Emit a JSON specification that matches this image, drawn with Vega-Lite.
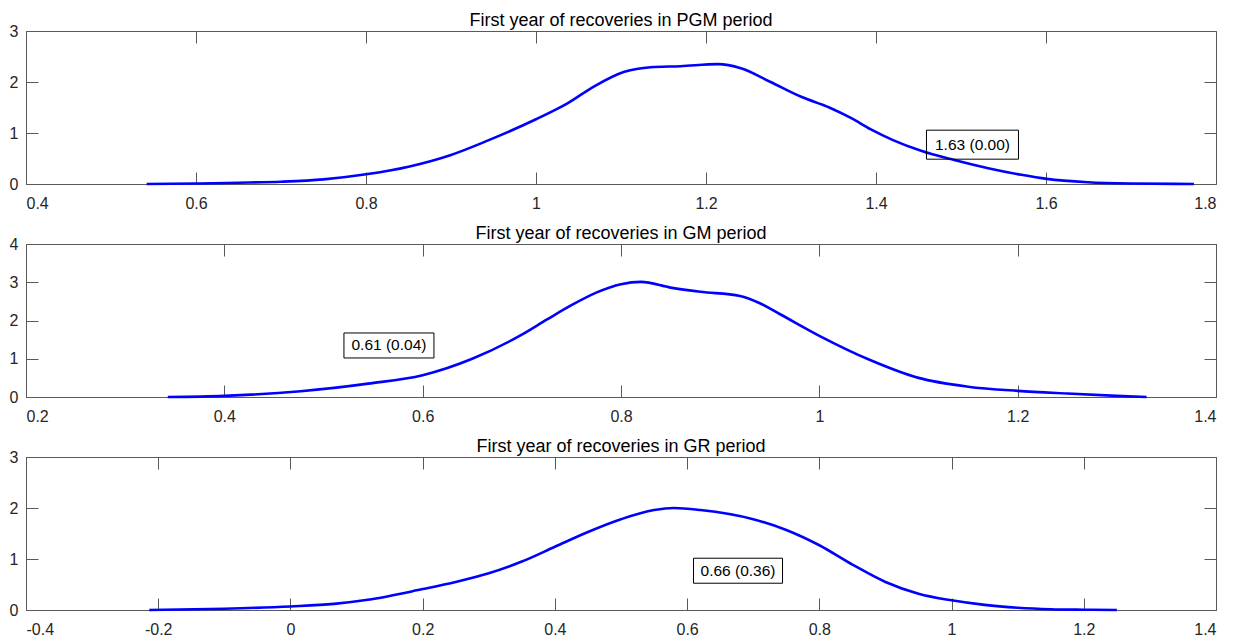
{
  "$schema": "https://vega.github.io/schema/vega-lite/v6.json",
  "padding": {"left": 8, "top": 11, "right": 5, "bottom": 5},
  "background": "white",
  "spacing": 60,
  "bounds": "flush",
  "config": {
    "view": {"stroke": "#595959", "strokeWidth": 1},
    "font": "Liberation Sans",
    "axis": {"domain": false, "grid": false, "tickColor": "#595959", "tickWidth": 1, "tickSize": -12, "labelFont": "Liberation Sans", "labelFontSize": 16, "labelColor": "#262626", "title": null},
    "axisBottom": {"labelPadding": 23},
    "axisLeft": {"labelPadding": 20},
    "title": {"font": "Liberation Sans", "fontSize": 18, "fontWeight": "normal", "color": "#000000", "anchor": "middle", "frame": "group", "baseline": "alphabetic", "offset": -7}
  },
  "datasets": {
    "pgm": [
      {"x": 0.542, "density": 0}, {"x": 0.6, "density": 0.01}, {"x": 0.65, "density": 0.025}, {"x": 0.7, "density": 0.045},
      {"x": 0.75, "density": 0.09}, {"x": 0.8, "density": 0.19}, {"x": 0.85, "density": 0.34}, {"x": 0.9, "density": 0.57},
      {"x": 0.943, "density": 0.85}, {"x": 1.0, "density": 1.27}, {"x": 1.037, "density": 1.58}, {"x": 1.068, "density": 1.91},
      {"x": 1.104, "density": 2.2}, {"x": 1.135, "density": 2.29}, {"x": 1.17, "density": 2.31}, {"x": 1.214, "density": 2.35},
      {"x": 1.241, "density": 2.27}, {"x": 1.276, "density": 2.0}, {"x": 1.312, "density": 1.71}, {"x": 1.345, "density": 1.5},
      {"x": 1.371, "density": 1.29}, {"x": 1.394, "density": 1.07}, {"x": 1.42, "density": 0.86}, {"x": 1.453, "density": 0.65},
      {"x": 1.492, "density": 0.47}, {"x": 1.532, "density": 0.31}, {"x": 1.571, "density": 0.18}, {"x": 1.601, "density": 0.1},
      {"x": 1.649, "density": 0.035}, {"x": 1.7, "density": 0.01}, {"x": 1.774, "density": 0}
    ],
    "gm": [
      {"x": 0.343, "density": 0}, {"x": 0.4, "density": 0.03}, {"x": 0.477, "density": 0.15}, {"x": 0.545, "density": 0.35},
      {"x": 0.6, "density": 0.57}, {"x": 0.65, "density": 1.0}, {"x": 0.7, "density": 1.63}, {"x": 0.725, "density": 2.02},
      {"x": 0.75, "density": 2.4}, {"x": 0.775, "density": 2.73}, {"x": 0.8, "density": 2.95}, {"x": 0.82, "density": 3.01},
      {"x": 0.85, "density": 2.86}, {"x": 0.88, "density": 2.75}, {"x": 0.92, "density": 2.64}, {"x": 0.94, "density": 2.45},
      {"x": 0.96, "density": 2.17}, {"x": 1.0, "density": 1.6}, {"x": 1.05, "density": 0.98}, {"x": 1.1, "density": 0.5},
      {"x": 1.15, "density": 0.27}, {"x": 1.2, "density": 0.16}, {"x": 1.25, "density": 0.09}, {"x": 1.3, "density": 0.03},
      {"x": 1.33, "density": 0}
    ],
    "gr": [
      {"x": -0.2135, "density": 0}, {"x": -0.1, "density": 0.025}, {"x": 0.0, "density": 0.07}, {"x": 0.066, "density": 0.12},
      {"x": 0.117, "density": 0.2}, {"x": 0.2, "density": 0.41}, {"x": 0.25, "density": 0.55}, {"x": 0.3, "density": 0.72},
      {"x": 0.35, "density": 0.95}, {"x": 0.4, "density": 1.24}, {"x": 0.45, "density": 1.53}, {"x": 0.5, "density": 1.78},
      {"x": 0.55, "density": 1.96}, {"x": 0.58, "density": 2.0}, {"x": 0.62, "density": 1.96}, {"x": 0.7, "density": 1.78},
      {"x": 0.75, "density": 1.57}, {"x": 0.8, "density": 1.27}, {"x": 0.85, "density": 0.89}, {"x": 0.9, "density": 0.55},
      {"x": 0.95, "density": 0.32}, {"x": 1.0, "density": 0.19}, {"x": 1.05, "density": 0.1}, {"x": 1.1, "density": 0.045},
      {"x": 1.15, "density": 0.015}, {"x": 1.2, "density": 0.005}, {"x": 1.25, "density": 0}
    ],
    "pgm_note": [{"x": 1.5135, "y": 0.771, "label": "1.63 (0.00)"}],
    "gm_note": [{"x": 0.566, "y": 1.347, "label": "0.61 (0.04)"}],
    "gr_note": [{"x": 0.677, "y": 0.77, "label": "0.66 (0.36)"}]
  },
  "vconcat": [
    {
      "width": 1190, "height": 153,
      "title": "First year of recoveries in PGM period",
      "layer": [
        {"data": {"name": "pgm"}, "mark": {"type": "line", "color": "#0000ff", "strokeWidth": 2.6, "interpolate": "monotone"},
         "encoding": {
           "x": {"field": "x", "type": "quantitative", "scale": {"domain": [0.4, 1.8], "nice": false, "zero": false}, "axis": {"orient": "bottom", "values": [0.4, 0.6, 0.8, 1, 1.2, 1.4, 1.6, 1.8], "labelExpr": "'' + datum.value"}},
           "y": {"field": "density", "type": "quantitative", "scale": {"domain": [0, 3], "nice": false, "zero": false}, "axis": {"orient": "left", "values": [0, 1, 2, 3]}}}},
        {"data": {"name": "pgm"}, "mark": {"type": "line", "opacity": 0},
         "encoding": {
           "x": {"field": "x", "type": "quantitative", "axis": {"orient": "top", "values": [0.4, 0.6, 0.8, 1, 1.2, 1.4, 1.6, 1.8], "labels": false}},
           "y": {"field": "density", "type": "quantitative", "axis": {"orient": "right", "values": [0, 1, 2, 3], "labels": false}}}},
        {"data": {"name": "pgm_note"}, "mark": {"type": "rect", "width": 92, "height": 29, "fill": "white", "fillOpacity": 0, "stroke": "#000000", "strokeWidth": 1},
         "encoding": {"x": {"field": "x", "type": "quantitative", "axis": null}, "y": {"field": "y", "type": "quantitative", "axis": null}}},
        {"data": {"name": "pgm_note"}, "mark": {"type": "text", "fontSize": 15.5, "color": "#000000", "font": "Liberation Sans"},
         "encoding": {"x": {"field": "x", "type": "quantitative", "axis": null}, "y": {"field": "y", "type": "quantitative", "axis": null}, "text": {"field": "label"}}}
      ],
      "resolve": {"axis": {"x": "independent", "y": "independent"}}
    },
    {
      "width": 1190, "height": 153,
      "title": "First year of recoveries in GM period",
      "layer": [
        {"data": {"name": "gm"}, "mark": {"type": "line", "color": "#0000ff", "strokeWidth": 2.6, "interpolate": "monotone"},
         "encoding": {
           "x": {"field": "x", "type": "quantitative", "scale": {"domain": [0.2, 1.4], "nice": false, "zero": false}, "axis": {"orient": "bottom", "values": [0.2, 0.4, 0.6, 0.8, 1, 1.2, 1.4], "labelExpr": "'' + datum.value"}},
           "y": {"field": "density", "type": "quantitative", "scale": {"domain": [0, 4], "nice": false, "zero": false}, "axis": {"orient": "left", "values": [0, 1, 2, 3, 4]}}}},
        {"data": {"name": "gm"}, "mark": {"type": "line", "opacity": 0},
         "encoding": {
           "x": {"field": "x", "type": "quantitative", "axis": {"orient": "top", "values": [0.2, 0.4, 0.6, 0.8, 1, 1.2, 1.4], "labels": false}},
           "y": {"field": "density", "type": "quantitative", "axis": {"orient": "right", "values": [0, 1, 2, 3, 4], "labels": false}}}},
        {"data": {"name": "gm_note"}, "mark": {"type": "rect", "width": 90, "height": 25, "fill": "white", "fillOpacity": 0, "stroke": "#000000", "strokeWidth": 1},
         "encoding": {"x": {"field": "x", "type": "quantitative", "axis": null}, "y": {"field": "y", "type": "quantitative", "axis": null}}},
        {"data": {"name": "gm_note"}, "mark": {"type": "text", "fontSize": 15.5, "color": "#000000", "font": "Liberation Sans"},
         "encoding": {"x": {"field": "x", "type": "quantitative", "axis": null}, "y": {"field": "y", "type": "quantitative", "axis": null}, "text": {"field": "label"}}}
      ],
      "resolve": {"axis": {"x": "independent", "y": "independent"}}
    },
    {
      "width": 1190, "height": 153,
      "title": "First year of recoveries in GR period",
      "layer": [
        {"data": {"name": "gr"}, "mark": {"type": "line", "color": "#0000ff", "strokeWidth": 2.6, "interpolate": "monotone"},
         "encoding": {
           "x": {"field": "x", "type": "quantitative", "scale": {"domain": [-0.4, 1.4], "nice": false, "zero": false}, "axis": {"orient": "bottom", "values": [-0.4, -0.2, 0, 0.2, 0.4, 0.6, 0.8, 1, 1.2, 1.4], "labelExpr": "'' + datum.value"}},
           "y": {"field": "density", "type": "quantitative", "scale": {"domain": [0, 3], "nice": false, "zero": false}, "axis": {"orient": "left", "values": [0, 1, 2, 3]}}}},
        {"data": {"name": "gr"}, "mark": {"type": "line", "opacity": 0},
         "encoding": {
           "x": {"field": "x", "type": "quantitative", "axis": {"orient": "top", "values": [-0.4, -0.2, 0, 0.2, 0.4, 0.6, 0.8, 1, 1.2, 1.4], "labels": false}},
           "y": {"field": "density", "type": "quantitative", "axis": {"orient": "right", "values": [0, 1, 2, 3], "labels": false}}}},
        {"data": {"name": "gr_note"}, "mark": {"type": "rect", "width": 89, "height": 25, "fill": "white", "fillOpacity": 0, "stroke": "#000000", "strokeWidth": 1},
         "encoding": {"x": {"field": "x", "type": "quantitative", "axis": null}, "y": {"field": "y", "type": "quantitative", "axis": null}}},
        {"data": {"name": "gr_note"}, "mark": {"type": "text", "fontSize": 15.5, "color": "#000000", "font": "Liberation Sans"},
         "encoding": {"x": {"field": "x", "type": "quantitative", "axis": null}, "y": {"field": "y", "type": "quantitative", "axis": null}, "text": {"field": "label"}}}
      ],
      "resolve": {"axis": {"x": "independent", "y": "independent"}}
    }
  ]
}
